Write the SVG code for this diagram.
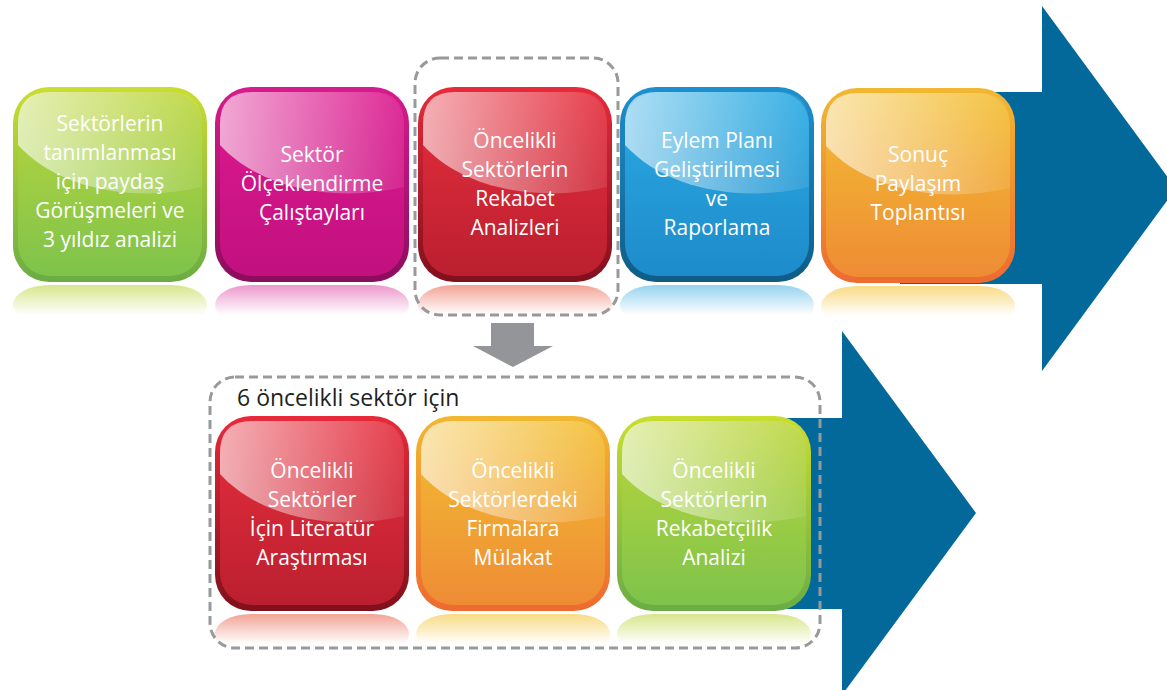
<svg xmlns="http://www.w3.org/2000/svg" width="1167" height="690" viewBox="0 0 1167 690">
<style>
.t{font-family:"Open Sans","Noto Sans",sans-serif;font-size:21px;fill:#ffffff;text-anchor:middle}
.title{font-family:"Open Sans","Noto Sans",sans-serif;font-size:23px;fill:#231f20}
.frame{fill:none;stroke:#98999b;stroke-width:3;stroke-dasharray:9 5}
.big{fill:#03699b}
.gray{fill:#939598}
</style>
<defs>
<linearGradient id="hl" x1="0" y1="0" x2="1" y2="0">
<stop offset="0" stop-color="#fff" stop-opacity="0.62"/>
<stop offset="1" stop-color="#fff" stop-opacity="0.08"/>
</linearGradient>
<path id="hlp" d="M5,58 L5,37 Q5,5 37,5 L157,5 Q189,5 189,37 L189,100 C120,116 45,102 5,58 Z"/>
<linearGradient id="gB" x1="0" y1="0" x2="0" y2="1"><stop offset="0" stop-color="#cadd30"/><stop offset="1" stop-color="#6aac44"/></linearGradient>
<linearGradient id="gF" x1="0" y1="0" x2="0" y2="1"><stop offset="0" stop-color="#bdd63c"/><stop offset="1" stop-color="#7ec34b"/></linearGradient>
<linearGradient id="gR" x1="0" y1="0" x2="0" y2="1"><stop offset="0" stop-color="#bcd63f" stop-opacity="0.6"/><stop offset="0.75" stop-color="#bcd63f" stop-opacity="0"/></linearGradient>
<linearGradient id="mB" x1="0" y1="0" x2="0" y2="1"><stop offset="0" stop-color="#d81b8e"/><stop offset="1" stop-color="#8b0d5c"/></linearGradient>
<linearGradient id="mF" x1="0" y1="0" x2="0" y2="1"><stop offset="0" stop-color="#dd1a8f"/><stop offset="1" stop-color="#c2107f"/></linearGradient>
<linearGradient id="mR" x1="0" y1="0" x2="0" y2="1"><stop offset="0" stop-color="#d61a8c" stop-opacity="0.45"/><stop offset="0.75" stop-color="#d61a8c" stop-opacity="0"/></linearGradient>
<linearGradient id="rB" x1="0" y1="0" x2="0" y2="1"><stop offset="0" stop-color="#e82a3a"/><stop offset="1" stop-color="#80101c"/></linearGradient>
<linearGradient id="rF" x1="0" y1="0" x2="0" y2="1"><stop offset="0" stop-color="#e62f3e"/><stop offset="1" stop-color="#bb1f2f"/></linearGradient>
<linearGradient id="rR" x1="0" y1="0" x2="0" y2="1"><stop offset="0" stop-color="#e8583f" stop-opacity="0.55"/><stop offset="0.75" stop-color="#e8583f" stop-opacity="0"/></linearGradient>
<linearGradient id="bB" x1="0" y1="0" x2="0" y2="1"><stop offset="0" stop-color="#1c90d0"/><stop offset="1" stop-color="#0f5c86"/></linearGradient>
<linearGradient id="bF" x1="0" y1="0" x2="0" y2="1"><stop offset="0" stop-color="#2aabe3"/><stop offset="1" stop-color="#1e8bca"/></linearGradient>
<linearGradient id="bR" x1="0" y1="0" x2="0" y2="1"><stop offset="0" stop-color="#2aa8e0" stop-opacity="0.5"/><stop offset="0.75" stop-color="#2aa8e0" stop-opacity="0"/></linearGradient>
<linearGradient id="oB" x1="0" y1="0" x2="0" y2="1"><stop offset="0" stop-color="#f2b830"/><stop offset="1" stop-color="#ee6a2f"/></linearGradient>
<linearGradient id="oF" x1="0" y1="0" x2="0" y2="1"><stop offset="0" stop-color="#f3bf32"/><stop offset="1" stop-color="#ee8c35"/></linearGradient>
<linearGradient id="oR" x1="0" y1="0" x2="0" y2="1"><stop offset="0" stop-color="#f3c332" stop-opacity="0.6"/><stop offset="0.75" stop-color="#f3c332" stop-opacity="0"/></linearGradient>
</defs>

<g id="connectors">
<polygon class="big" points="900,92 1042,92 1042,6 1176,188.5 1042,371 1042,284 900,284"/>
<polygon class="big" points="700,418 842,418 842,331 976,513 842,695 842,609 700,609"/>
<polygon class="gray" points="491,323 534,323 534,346 553,346 513,367 473,346 491,346"/>
</g>

<g id="node-tanimlama" transform="translate(13,87)">
<rect x="0" y="198" width="194" height="40" rx="36" fill="url(#gR)"/>
<rect x="0" y="0" width="194" height="195" rx="36" fill="url(#gB)"/>
<rect x="5" y="5" width="184" height="184" rx="32" fill="url(#gF)"/>
<use href="#hlp" fill="url(#hl)"/>
<text class="t" x="97" y="44">Sektörlerin</text>
<text class="t" x="97" y="73">tanımlanması</text>
<text class="t" x="97" y="102">için paydaş</text>
<text class="t" x="97" y="131">Görüşmeleri ve</text>
<text class="t" x="97" y="160">3 yıldız analizi</text>
</g>

<g id="node-olceklendirme" transform="translate(215,87)">
<rect x="0" y="198" width="194" height="40" rx="36" fill="url(#mR)"/>
<rect x="0" y="0" width="194" height="195" rx="36" fill="url(#mB)"/>
<rect x="5" y="5" width="184" height="184" rx="32" fill="url(#mF)"/>
<use href="#hlp" fill="url(#hl)"/>
<text class="t" x="97" y="75">Sektör</text>
<text class="t" x="97" y="104">Ölçeklendirme</text>
<text class="t" x="97" y="133">Çalıştayları</text>
</g>

<g id="node-rekabet-analizleri" transform="translate(418,87)">
<rect x="0" y="198" width="194" height="40" rx="36" fill="url(#rR)"/>
<rect x="0" y="0" width="194" height="195" rx="36" fill="url(#rB)"/>
<rect x="5" y="5" width="184" height="184" rx="32" fill="url(#rF)"/>
<use href="#hlp" fill="url(#hl)"/>
<text class="t" x="97" y="61">Öncelikli</text>
<text class="t" x="97" y="90">Sektörlerin</text>
<text class="t" x="97" y="119">Rekabet</text>
<text class="t" x="97" y="148">Analizleri</text>
</g>

<g id="node-eylem-plani" transform="translate(620,87)">
<rect x="0" y="198" width="194" height="40" rx="36" fill="url(#bR)"/>
<rect x="0" y="0" width="194" height="195" rx="36" fill="url(#bB)"/>
<rect x="5" y="5" width="184" height="184" rx="32" fill="url(#bF)"/>
<use href="#hlp" fill="url(#hl)"/>
<text class="t" x="97" y="61">Eylem Planı</text>
<text class="t" x="97" y="90">Geliştirilmesi</text>
<text class="t" x="97" y="119">ve</text>
<text class="t" x="97" y="148">Raporlama</text>
</g>

<g id="node-sonuc" transform="translate(821,88)">
<rect x="0" y="198" width="194" height="40" rx="36" fill="url(#oR)"/>
<rect x="0" y="0" width="194" height="195" rx="36" fill="url(#oB)"/>
<rect x="5" y="5" width="184" height="184" rx="32" fill="url(#oF)"/>
<use href="#hlp" fill="url(#hl)"/>
<text class="t" x="97" y="74">Sonuç</text>
<text class="t" x="97" y="103">Paylaşım</text>
<text class="t" x="97" y="132">Toplantısı</text>
</g>

<g id="node-literatur" transform="translate(215,416)">
<rect x="0" y="198" width="194" height="40" rx="36" fill="url(#rR)"/>
<rect x="0" y="0" width="194" height="195" rx="36" fill="url(#rB)"/>
<rect x="5" y="5" width="184" height="184" rx="32" fill="url(#rF)"/>
<use href="#hlp" fill="url(#hl)"/>
<text class="t" x="97" y="62">Öncelikli</text>
<text class="t" x="97" y="91">Sektörler</text>
<text class="t" x="97" y="120">İçin Literatür</text>
<text class="t" x="97" y="149">Araştırması</text>
</g>

<g id="node-mulakat" transform="translate(416,416)">
<rect x="0" y="198" width="194" height="40" rx="36" fill="url(#oR)"/>
<rect x="0" y="0" width="194" height="195" rx="36" fill="url(#oB)"/>
<rect x="5" y="5" width="184" height="184" rx="32" fill="url(#oF)"/>
<use href="#hlp" fill="url(#hl)"/>
<text class="t" x="97" y="62">Öncelikli</text>
<text class="t" x="97" y="91">Sektörlerdeki</text>
<text class="t" x="97" y="120">Firmalara</text>
<text class="t" x="97" y="149">Mülakat</text>
</g>

<g id="node-rekabetcilik" transform="translate(617,416)">
<rect x="0" y="198" width="194" height="40" rx="36" fill="url(#gR)"/>
<rect x="0" y="0" width="194" height="195" rx="36" fill="url(#gB)"/>
<rect x="5" y="5" width="184" height="184" rx="32" fill="url(#gF)"/>
<use href="#hlp" fill="url(#hl)"/>
<text class="t" x="97" y="62">Öncelikli</text>
<text class="t" x="97" y="91">Sektörlerin</text>
<text class="t" x="97" y="120">Rekabetçilik</text>
<text class="t" x="97" y="149">Analizi</text>
</g>

<g id="frames">
<rect class="frame" x="415" y="58" width="203" height="257" rx="25"/>
<rect class="frame" x="210" y="377" width="610" height="271" rx="25"/>
<text class="title" x="237" y="406">6 öncelikli sektör için</text>
</g>
</svg>
